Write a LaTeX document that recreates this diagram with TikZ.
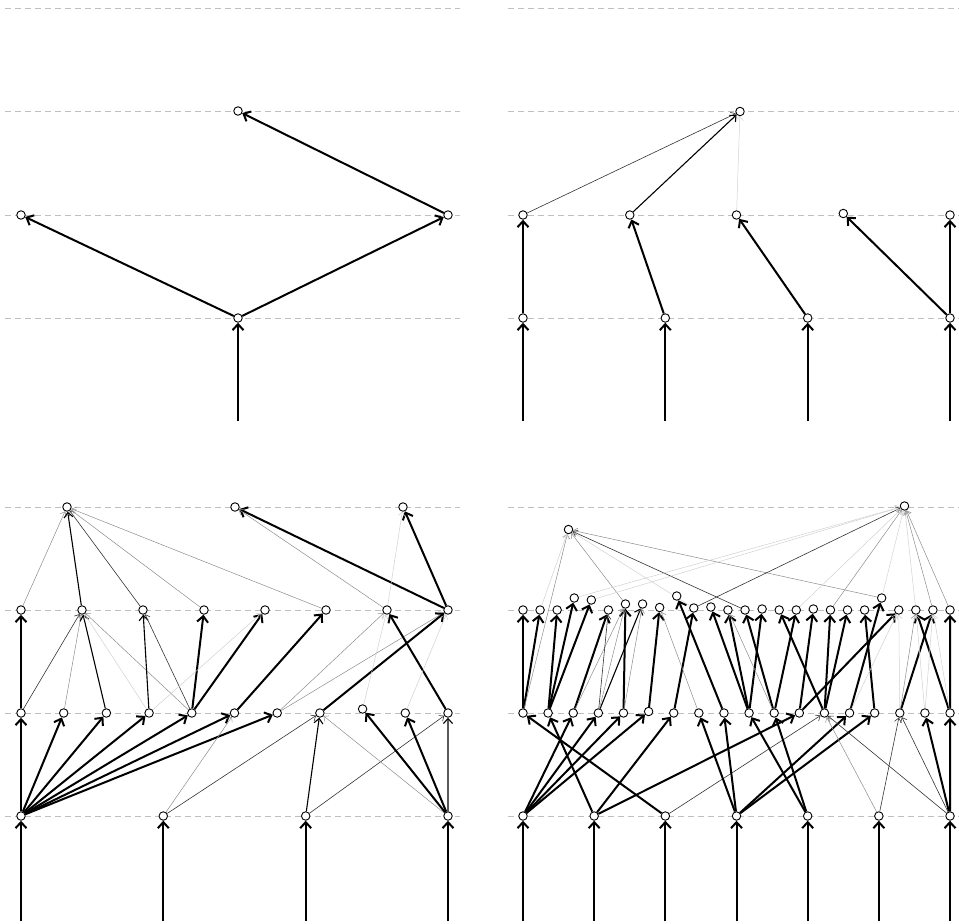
\documentclass[tikz,border=0pt]{standalone}
\usetikzlibrary{arrows.meta}

\pgfdeclarelayer{bg}
\pgfsetlayers{bg,main}

\tikzset{
	unit/.style = {draw = black, fill = white, circle, line width = 0.9pt, minimum size = 8.5pt, inner sep = 0pt},
	level/.style = {draw = black!25, line width = 0.9pt, dash pattern = on 6pt off 4pt},
	strong/.style = {draw = black, line width = 2pt, -{Straight Barb[length = 6pt, width = 11pt]}},
	mid/.style = {draw = black, line width = 1.1pt, -{Straight Barb[length = 5pt, width = 9pt]}},
	weak/.style = {draw = black!80, line width = 0.6pt, -{Straight Barb[length = 4pt, width = 7pt]}},
	faint/.style = {draw = black!45, line width = 0.5pt, -{Straight Barb[length = 4pt, width = 7pt]}},
	ghost/.style = {draw = black!18, line width = 0.5pt, -{Straight Barb[length = 4pt, width = 7pt]}}
}

\begin{document}
\begin{tikzpicture}[x = 1pt, y = -1pt]

	\useasboundingbox (0, 0) rectangle (959, 924);

	% top left
	\node[unit] (aB0) at (238, 318) {};
	\node[unit] (aC0) at (21, 215) {};
	\node[unit] (aC1) at (448, 215) {};
	\node[unit] (aD0) at (238, 111) {};
	\coordinate (aI0) at (238, 421);

	% top right
	\foreach \i/\x in {0/523, 1/665.3, 2/807.7, 3/950} {
		\node[unit] (bB\i) at (\x, 318) {};
		\coordinate (bI\i) at (\x, 421);
	}
	\foreach \i/\x/\y in {0/523/215, 1/629.8/215, 2/736.5/215, 3/843.3/213.5, 4/950/215}
		\node[unit] (bC\i) at (\x, \y) {};
	\node[unit] (bD0) at (740, 111.5) {};

	% bottom left
	\foreach \i/\x in {0/21, 1/163.3, 2/305.7, 3/448} {
		\node[unit] (cA\i) at (\x, 816) {};
		\coordinate (cI\i) at (\x, 921);
	}
	\foreach \i/\y in {0/713, 1/713, 2/713, 3/713, 4/713, 5/713, 6/713, 7/713, 8/709, 9/713, 10/713}
		\node[unit] (cB\i) at ({21 + 42.7*\i}, \y) {};
	\foreach \i in {0, ..., 7}
		\node[unit] (cC\i) at ({21 + 61*\i}, 610) {};
	\node[unit] (cD0) at (67, 507) {};
	\node[unit] (cD1) at (235, 507) {};
	\node[unit] (cD2) at (403, 507) {};

	% bottom right
	\foreach \i in {0, ..., 6} {
		\node[unit] (dA\i) at ({523 + 71.17*\i}, 816) {};
		\coordinate (dI\i) at ({523 + 71.17*\i}, 921);
	}
	\foreach \i/\y in {0/713, 1/713, 2/713, 3/713, 4/713, 5/711.5, 6/713, 7/713, 8/713, 9/713, 10/713, 11/713, 12/713, 13/713, 14/713, 15/713, 16/713, 17/713}
		\node[unit] (dB\i) at ({523 + 25.12*\i}, \y) {};
	\foreach \i/\y in {0/610, 1/610, 2/610, 3/598, 4/600, 5/610, 6/604, 7/604, 8/607.5, 9/596, 10/608, 11/607, 12/610, 13/610, 14/609, 15/610, 16/610, 17/609, 18/610, 19/610, 20/610, 21/598, 22/610, 23/610, 24/610, 25/610}
		\node[unit] (dC\i) at ({523 + 17.08*\i}, \y) {};
	\node[unit] (dD0) at (568.5, 529.5) {};
	\node[unit] (dD1) at (904.5, 506) {};

	\begin{pgfonlayer}{bg}
		\foreach \y in {8, 111, 215, 318, 507, 610, 713, 816} {
			\draw[level] (5, \y) -- (460, \y);
			\draw[level] (508, \y) -- (959, \y);
		}

		% top left
		\draw[strong] (aI0) -- (aB0);
		\draw[strong] (aB0) -- (aC0);
		\draw[strong] (aB0) -- (aC1);
		\draw[strong] (aC1) -- (aD0);

		% top right
		\foreach \i in {0, ..., 3}
			\draw[strong] (bI\i) -- (bB\i);
		\draw[strong] (bB0) -- (bC0);
		\draw[strong] (bB1) -- (bC1);
		\draw[strong] (bB2) -- (bC2);
		\draw[strong] (bB3) -- (bC3);
		\draw[strong] (bB3) -- (bC4);
		\draw[weak] (bC0) -- (bD0);
		\draw[mid] (bC1) -- (bD0);
		\draw[ghost] (bC2) -- (bD0);

		% bottom left
		\foreach \i in {0, ..., 3}
			\draw[strong] (cI\i) -- (cA\i);
		\foreach \j in {0, ..., 6}
			\draw[strong] (cA0) -- (cB\j);
		\draw[faint] (cA1) -- (cB5);
		\draw[weak] (cA1) -- (cB7);
		\draw[mid] (cA2) -- (cB7);
		\draw[weak] (cA2) -- (cB10);
		\draw[strong] (cA3) -- (cB8);
		\draw[strong] (cA3) -- (cB9);
		\draw[mid] (cA3) -- (cB10);
		\draw[faint] (cA3) -- (cB7);

		\draw[strong] (cB0) -- (cC0);
		\draw[weak] (cB0) -- (cC1);
		\draw[faint] (cB1) -- (cC1);
		\draw[mid] (cB2) -- (cC1);
		\draw[ghost] (cB3) -- (cC1);
		\draw[faint] (cB4) -- (cC1);
		\draw[mid] (cB3) -- (cC2);
		\draw[weak] (cB4) -- (cC2);
		\draw[strong] (cB4) -- (cC3);
		\draw[strong] (cB4) -- (cC4);
		\draw[ghost] (cB3) -- (cC4);
		\draw[strong] (cB5) -- (cC5);
		\draw[faint] (cB6) -- (cC6);
		\draw[faint] (cB6) -- (cC7);
		\draw[strong] (cB7) -- (cC7);
		\draw[strong] (cB10) -- (cC6);
		\draw[ghost] (cB9) -- (cC7);
		\draw[ghost] (cB8) -- (cC6);

		\draw[faint] (cC0) -- (cD0);
		\draw[mid] (cC1) -- (cD0);
		\draw[weak] (cC2) -- (cD0);
		\draw[faint] (cC3) -- (cD0);
		\draw[faint] (cC5) -- (cD0);
		\draw[strong] (cC7) -- (cD1);
		\draw[faint] (cC6) -- (cD1);
		\draw[strong] (cC7) -- (cD2);
		\draw[ghost] (cC6) -- (cD2);

		% bottom right
		\foreach \i in {0, ..., 6}
			\draw[strong] (dI\i) -- (dA\i);
		\draw[strong] (dA0) -- (dB2);
		\draw[strong] (dA0) -- (dB3);
		\draw[strong] (dA0) -- (dB4);
		\draw[strong] (dA0) -- (dB5);
		\draw[strong] (dA1) -- (dB1);
		\draw[strong] (dA1) -- (dB6);
		\draw[strong] (dA1) -- (dB11);
		\draw[strong] (dA2) -- (dB0);
		\draw[weak] (dA2) -- (dB12);
		\draw[strong] (dA3) -- (dB7);
		\draw[strong] (dA3) -- (dB8);
		\draw[strong] (dA3) -- (dB13);
		\draw[strong] (dA3) -- (dB14);
		\draw[strong] (dA4) -- (dB9);
		\draw[strong] (dA4) -- (dB10);
		\draw[weak] (dA5) -- (dB15);
		\draw[faint] (dA5) -- (dB12);
		\draw[strong] (dA6) -- (dB17);
		\draw[strong] (dA6) -- (dB16);
		\draw[weak] (dA6) -- (dB15);
		\draw[weak] (dA6) -- (dB12);

		\draw[strong] (dB0) -- (dC0);
		\draw[strong] (dB0) -- (dC1);
		\draw[strong] (dB1) -- (dC2);
		\draw[strong] (dB1) -- (dC3);
		\draw[strong] (dB1) -- (dC4);
		\draw[strong] (dB2) -- (dC5);
		\draw[mid] (dB3) -- (dC7);
		\draw[strong] (dB4) -- (dC6);
		\draw[strong] (dB5) -- (dC8);
		\draw[strong] (dB6) -- (dC10);
		\draw[strong] (dB8) -- (dC9);
		\draw[strong] (dB9) -- (dC11);
		\draw[strong] (dB9) -- (dC12);
		\draw[strong] (dB9) -- (dC14);
		\draw[strong] (dB10) -- (dC13);
		\draw[strong] (dB10) -- (dC16);
		\draw[strong] (dB11) -- (dC17);
		\draw[strong] (dB11) -- (dC22);
		\draw[strong] (dB12) -- (dC15);
		\draw[strong] (dB12) -- (dC18);
		\draw[strong] (dB12) -- (dC19);
		\draw[strong] (dB13) -- (dC21);
		\draw[strong] (dB14) -- (dC20);
		\draw[strong] (dB15) -- (dC24);
		\draw[strong] (dB17) -- (dC25);
		\draw[strong] (dB17) -- (dC23);

		\draw[faint] (dB0) -- (dD0);
		\draw[faint] (dB2) -- (dC6);
		\draw[weak] (dB3) -- (dC5);
		\draw[faint] (dB3) -- (dC6);
		\draw[faint] (dB4) -- (dC7);
		\draw[faint] (dB7) -- (dC8);
		\draw[faint] (dB10) -- (dC12);
		\draw[ghost] (dB13) -- (dC22);
		\draw[ghost] (dB15) -- (dC22);
		\draw[faint] (dB15) -- (dC23);
		\draw[ghost] (dB16) -- (dC23);
		\draw[ghost] (dB16) -- (dC24);
		\draw[ghost] (dB17) -- (dC24);

		\draw[ghost] (dC1) -- (dD0);
		\draw[faint] (dC6) -- (dD0);
		\draw[ghost] (dC10) -- (dD0);
		\draw[weak] (dC13) -- (dD0);
		\draw[faint] (dC21) -- (dD0);
		\draw[ghost] (dC3) -- (dD1);
		\draw[ghost] (dC4) -- (dD1);
		\draw[weak] (dC10) -- (dD1);
		\draw[ghost] (dC16) -- (dD1);
		\draw[faint] (dC18) -- (dD1);
		\draw[ghost] (dC21) -- (dD1);
		\draw[ghost] (dC23) -- (dD1);
		\draw[faint] (dC24) -- (dD1);
		\draw[faint] (dC25) -- (dD1);
	\end{pgfonlayer}

\end{tikzpicture}
\end{document}
